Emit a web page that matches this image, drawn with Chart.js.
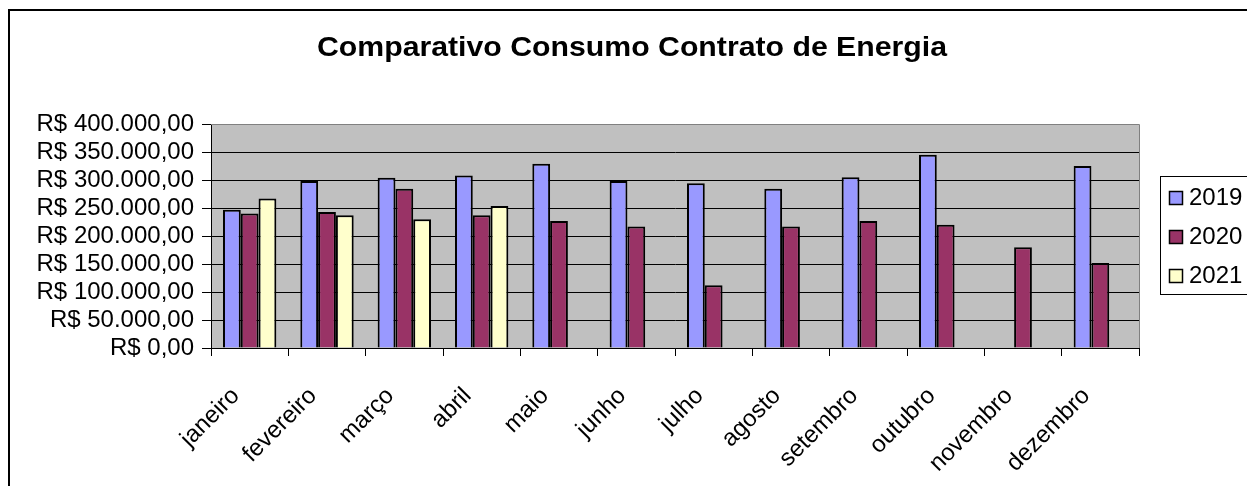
<!DOCTYPE html>
<html lang="pt-BR">
<head>
    <meta charset="UTF-8">
    <title>Comparativo Consumo Contrato de Energia</title>
    <script src="https://cdn.jsdelivr.net/npm/chart.js"></script>
    <style>
        html, body { margin: 0; padding: 0; background: #fff; }
        #wrap { width: 1247px; height: 486px; }
    </style>
</head>
<body>
    <div id="wrap"><canvas id="chart"></canvas></div>

    <script>
        const meses = ['janeiro', 'fevereiro', 'março', 'abril', 'maio', 'junho',
                       'julho', 'agosto', 'setembro', 'outubro', 'novembro', 'dezembro'];
        const anos = ['2019', '2020', '2021'];
        const valores2019 = [247000, 298000, 304000, 308000, 329000, 298000,
                             294000, 284500, 305000, 345000, null, 325000];
        const valores2020 = [240000, 243000, 284500, 237000, 227000, 217000,
                             112000, 217000, 227000, 220000, 180000, 152000];
        const valores2021 = [267000, 237000, 230000, 253500, null, null,
                             null, null, null, null, null, null];
        const cores = ['#9999FF', '#993366', '#FFFFCC'];
        const yMax = 400000;
        const yStep = 50000;

        const FONT = '"Liberation Sans", Arial, sans-serif';

        function reais(v) {
            let [int, dec] = v.toFixed(2).split('.');
            int = int.replace(/\B(?=(\d{3})+(?!\d))/g, '.');
            return 'R$ ' + int + ',' + dec;
        }

        // fundo cinza da área de plotagem, moldura externa, título e legenda
        const excelLook = {
            id: 'excelLook',
            beforeDraw(chart) {
                const { ctx, chartArea: a } = chart;
                ctx.save();
                ctx.fillStyle = '#C0C0C0';
                ctx.fillRect(a.left, a.top, a.right - a.left, a.bottom - a.top);
                ctx.restore();
            },
            afterDatasetsDraw(chart) {
                const { ctx, chartArea: a } = chart;
                ctx.save();
                ctx.strokeStyle = '#808080';
                ctx.lineWidth = 1;
                ctx.beginPath();
                ctx.moveTo(a.left, a.top + 0.5);
                ctx.lineTo(a.right + 0.5, a.top + 0.5);
                ctx.lineTo(a.right + 0.5, a.bottom);
                ctx.stroke();
                ctx.restore();
            },
            afterDraw(chart) {
                const ctx = chart.ctx;
                ctx.save();
                // moldura
                ctx.strokeStyle = '#000';
                ctx.lineWidth = 2;
                ctx.beginPath();
                ctx.moveTo(9, 486);
                ctx.lineTo(9, 10);
                ctx.lineTo(1247, 10);
                ctx.stroke();

                // título
                ctx.fillStyle = '#000';
                ctx.font = 'bold 27px ' + FONT;
                ctx.textAlign = 'center';
                ctx.textBaseline = 'alphabetic';
                ctx.translate(632, 56);
                ctx.scale(1.12, 1);
                ctx.fillText('Comparativo Consumo Contrato de Energia', 0, 0);
                ctx.setTransform(1, 0, 0, 1, 0, 0);

                // legenda
                ctx.lineWidth = 1;
                ctx.strokeStyle = '#000';
                ctx.strokeRect(1160.5, 176.5, 100, 118);
                ctx.font = '24px ' + FONT;
                ctx.textAlign = 'left';
                ctx.textBaseline = 'middle';
                chart.data.datasets.forEach((ds, i) => {
                    const cy = 197 + i * 39;
                    ctx.fillStyle = ds.backgroundColor;
                    ctx.fillRect(1169, cy - 6, 13, 13);
                    ctx.lineWidth = 1.5;
                    ctx.strokeRect(1169.5, cy - 5.5, 13, 13);
                    ctx.fillStyle = '#000';
                    ctx.fillText(ds.label, 1189, cy + 1);
                });
                ctx.restore();
            }
        };

        new Chart(document.getElementById('chart'), {
            type: 'bar',
            data: {
                labels: meses,
                datasets: [
                    { label: anos[0], data: valores2019, backgroundColor: cores[0] },
                    { label: anos[1], data: valores2020, backgroundColor: cores[1] },
                    { label: anos[2], data: valores2021, backgroundColor: cores[2] }
                ]
            },
            options: {
                responsive: true,
                maintainAspectRatio: false,
                animation: false,
                layout: { padding: { left: 0, right: 108, top: 124, bottom: 0 } },
                datasets: {
                    bar: {
                        borderColor: '#000',
                        borderWidth: 2,
                        categoryPercentage: 0.69,
                        barPercentage: 1
                    }
                },
                plugins: {
                    legend: { display: false },
                    title: { display: false },
                    tooltip: { enabled: false }
                },
                scales: {
                    x: {
                        afterFit(scale) { scale.height = 138; },
                        grid: {
                            offset: true,
                            drawOnChartArea: false,
                            drawTicks: true,
                            tickLength: 8,
                            tickColor: '#000'
                        },
                        border: { color: '#000', width: 1 },
                        ticks: {
                            color: '#000',
                            font: { family: FONT, size: 24 },
                            maxRotation: 45,
                            minRotation: 45,
                            autoSkip: false,
                            padding: 26,
                            labelOffset: -14
                        }
                    },
                    y: {
                        min: 0,
                        max: yMax,
                        afterFit(scale) { scale.width = 211; },
                        grid: {
                            color: ctx => ctx.tick && ctx.tick.value === yMax ? '#808080' : '#000',
                            tickColor: '#000',
                            tickLength: 9,
                            lineWidth: 1
                        },
                        border: { color: '#000', width: 1 },
                        ticks: {
                            stepSize: yStep,
                            autoSkip: false,
                            color: '#000',
                            padding: 8,
                            font: { family: FONT, size: 24 },
                            callback: v => reais(v)
                        }
                    }
                }
            },
            plugins: [excelLook]
        });
    </script>
</body>
</html>
